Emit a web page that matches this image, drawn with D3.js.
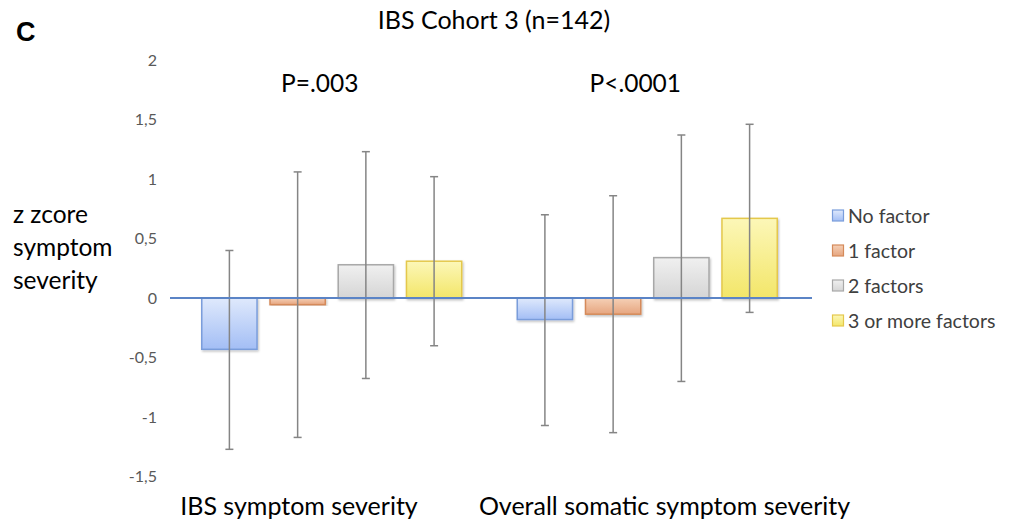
<!DOCTYPE html>
<html>
<head>
<meta charset="utf-8">
<script src="https://cdn.jsdelivr.net/npm/d3@7"></script>
<style>
  body { margin: 0; background: #fff; }
  svg { display: block; font-family: Lato, "Open Sans", sans-serif; }
</style>
</head>
<body>
<svg></svg>
<script>
const [width, height] = [1015, 521];

// data
const categories = ['IBS symptom severity', 'Overall somatic symptom severity'];
const series = ['No factor', '1 factor', '2 factors', '3 or more factors'];
const values = [
  [-0.43, -0.055, 0.28, 0.31],
  [-0.18, -0.135, 0.34, 0.67]
];
const errHigh = [
  [0.40, 1.06, 1.23, 1.02],
  [0.70, 0.86, 1.37, 1.46]
];
const errLow = [
  [-1.27, -1.17, -0.675, -0.40],
  [-1.07, -1.13, -0.70, -0.12]
];
const pValues = ['P=.003', 'P<.0001'];
const yTicks = [-1.5, -1, -0.5, 0, 0.5, 1, 1.5, 2];

const fills = [
  ['#dfe9fc', '#a3bef5', '#7a9ddb'],
  ['#f5d0b6', '#e6a57f', '#d58a5a'],
  ['#f0f0f0', '#d5d5d5', '#a8a8a8'],
  ['#fcf7b8', '#f3e669', '#e4c84c']
];

const svg = d3.select('svg').attr('width', width).attr('height', height);

const defs = svg.append('defs');
fills.forEach((f, i) => {
  const g = defs.append('linearGradient').attr('id', 'grad' + i)
    .attr('x1', 0).attr('y1', 0).attr('x2', 0).attr('y2', 1);
  g.append('stop').attr('offset', '0%').attr('stop-color', f[0]);
  g.append('stop').attr('offset', '100%').attr('stop-color', f[1]);
});
const flt = defs.append('filter').attr('id', 'shadow').attr('x', '-20%').attr('y', '-20%').attr('width', '140%').attr('height', '140%');
flt.append('feDropShadow').attr('dx', 1).attr('dy', 1.5).attr('stdDeviation', 1.2).attr('flood-color', '#000').attr('flood-opacity', 0.25);

const x0 = d3.scaleBand().domain(categories).range([174, 805]).paddingInner(0.176).paddingOuter(0.088);
const x1 = d3.scaleBand().domain(series).range([0, x0.bandwidth()]).paddingInner(0.19);
const y = d3.scaleLinear().domain([-1.5, 2]).range([476.7, 60]);

// y axis labels (no line)
const yAxis = svg.append('g').attr('transform', 'translate(162,0)')
  .call(d3.axisLeft(y).tickValues(yTicks).tickSize(0).tickPadding(5)
    .tickFormat(d => String(d).replace('.', ',')));
yAxis.select('.domain').remove();
yAxis.selectAll('text').attr('fill', '#595959').style('font-size', '16px').style('font-family', 'Lato, sans-serif');

// bars
const groups = svg.selectAll('g.grp').data(categories).join('g')
  .attr('class', 'grp')
  .attr('transform', d => `translate(${x0(d)},0)`);

groups.each(function(cat, ci) {
  const g = d3.select(this);
  g.selectAll('rect').data(series).join('rect')
    .attr('x', d => x1(d))
    .attr('width', x1.bandwidth())
    .attr('y', (d, si) => y(Math.max(0, values[ci][si])))
    .attr('height', (d, si) => Math.abs(y(values[ci][si]) - y(0)))
    .attr('fill', (d, si) => `url(#grad${si})`)
    .attr('stroke', (d, si) => fills[si][2])
    .attr('stroke-width', 1.5)
    .attr('filter', 'url(#shadow)');
});

// zero line
svg.append('line')
  .attr('x1', 170).attr('x2', 812)
  .attr('y1', y(0)).attr('y2', y(0))
  .attr('stroke', '#5b84c6').attr('stroke-width', 2);

// error bars
groups.each(function(cat, ci) {
  const g = d3.select(this);
  series.forEach((s, si) => {
    const cx = x1(s) + x1.bandwidth() / 2;
    const eb = g.append('g').attr('stroke', '#858585').attr('stroke-width', 1.5);
    eb.append('line').attr('x1', cx).attr('x2', cx).attr('y1', y(errHigh[ci][si])).attr('y2', y(errLow[ci][si]));
    eb.append('line').attr('x1', cx - 4).attr('x2', cx + 4).attr('y1', y(errHigh[ci][si])).attr('y2', y(errHigh[ci][si]));
    eb.append('line').attr('x1', cx - 4).attr('x2', cx + 4).attr('y1', y(errLow[ci][si])).attr('y2', y(errLow[ci][si]));
  });
});

// P values
svg.selectAll('text.pval').data(pValues).join('text')
  .attr('class', 'pval')
  .attr('x', (d, i) => x0(categories[i]) + x0.bandwidth() / 2 - 12)
  .attr('y', 92)
  .attr('text-anchor', 'middle')
  .style('font-size', '24.5px')
  .attr('fill', '#000')
  .text(d => d);

// category labels
const catCenters = [299, 664.5];
svg.selectAll('text.cat').data(categories).join('text')
  .attr('class', 'cat')
  .attr('x', (d, i) => catCenters[i])
  .attr('y', 515)
  .attr('text-anchor', 'middle')
  .style('font-size', '25px')
  .attr('fill', '#000')
  .text(d => d);

// title
svg.append('text').attr('x', 494).attr('y', 29).attr('text-anchor', 'middle')
  .style('font-size', '25px').text('IBS Cohort 3 (n=142)');

// panel letter
svg.append('text').attr('x', 16).attr('y', 41)
  .style('font-family', '"Liberation Sans", Arial, sans-serif')
  .style('font-size', '27px').style('font-weight', 'bold').text('C');

// y axis title
const yTitle = ['z zcore', 'symptom', 'severity'];
svg.append('text').attr('x', 13).attr('y', 223).style('font-size', '24.5px')
  .selectAll('tspan').data(yTitle).join('tspan')
  .attr('x', 13).attr('dy', (d, i) => i === 0 ? 0 : 33).text(d => d);

// legend
const legend = svg.append('g').attr('transform', 'translate(832,216)');
const li = legend.selectAll('g').data(series).join('g')
  .attr('transform', (d, i) => `translate(0,${i * 35})`);
li.append('rect').attr('x', 0.5).attr('y', -6).attr('width', 11).attr('height', 11)
  .attr('fill', (d, i) => `url(#grad${i})`)
  .attr('stroke', (d, i) => fills[i][2]).attr('stroke-width', 1.2);
li.append('text').attr('x', 16).attr('y', 7)
  .style('font-size', '19.5px').attr('fill', '#404040').text(d => d);
</script>
</body>
</html>
